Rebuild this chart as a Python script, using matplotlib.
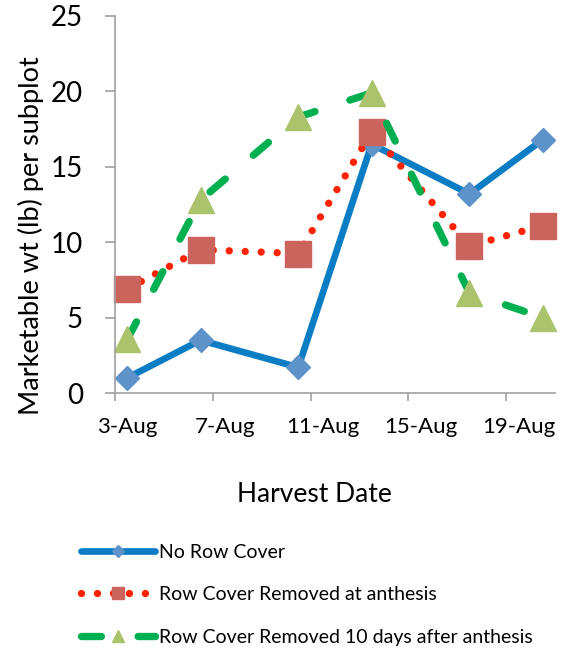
import numpy as np
import matplotlib
matplotlib.use("Agg")
import matplotlib.pyplot as plt
import matplotlib.dates as mdates

plt.rcParams['font.family'] = ['Lato', 'DejaVu Sans']

# harvest dates and marketable weight (lb) per subplot
harvest_dates = np.array(['2013-08-03', '2013-08-06', '2013-08-10',
                          '2013-08-13', '2013-08-17', '2013-08-20'], dtype='datetime64[D]')
no_cover = [1.0, 3.5, 1.7, 16.5, 13.2, 16.8]
removed_anthesis = [6.9, 9.5, 9.25, 17.3, 9.75, 11.1]
removed_10d = [3.55, 12.8, 18.3, 19.9, 6.65, 5.0]
series_names = ['No Row Cover', 'Row Cover Removed at anthesis',
                'Row Cover Removed 10 days after anthesis']
tick_dates = np.array(['2013-08-03', '2013-08-07', '2013-08-11',
                       '2013-08-15', '2013-08-19'], dtype='datetime64[D]')

fig = plt.figure(figsize=(5.68, 6.48), dpi=100)
ax = fig.add_axes([115 / 568, 1 - 393 / 648, 440 / 568, 377 / 648])

x = mdates.date2num(harvest_dates)

ax.plot(x, no_cover, color='#0A7DC5', lw=4.8, solid_capstyle='round',
        marker='D', ms=12.3, mfc='#5E93C9', mec='#5E93C9',
        label=series_names[0], clip_on=False)
ax.plot(x, removed_anthesis, color='#FF2200', lw=5.3, linestyle=(0, (0.001, 2.17)),
        dash_capstyle='round', marker='s', ms=18.5, mfc='#CC645E', mec='#CC645E',
        label=series_names[1], clip_on=False)
ax.plot(x, removed_10d, color='#00B050', lw=5.3, linestyle=(0, (2.7, 5.0)),
        dash_capstyle='round', marker='^', ms=18.5, mfc='#AAC36C', mec='#AAC36C',
        label=series_names[2], clip_on=False)

ax.set_ylim(0, 25)
ax.set_yticks(np.arange(0, 26, 5))
ax.set_xlim(x[0] - 0.5, x[-1] + 0.5)

tick_x = mdates.date2num(tick_dates)
ax.set_xticks(tick_x)
ax.xaxis.set_major_formatter(mdates.DateFormatter('%-d-%b'))
ax.set_xticks(tick_x - 0.5, minor=True)

for s in ['top', 'right']:
    ax.spines[s].set_visible(False)
for s in ['left', 'bottom']:
    ax.spines[s].set_color('#A0A0A0')
    ax.spines[s].set_linewidth(1.2)

ax.tick_params(axis='x', which='major', length=0, pad=17, labelsize=16)
ax.tick_params(axis='x', which='minor', length=6, width=1.2, color='#A0A0A0')
ax.tick_params(axis='y', length=7, width=1.2, color='#A0A0A0', pad=16, labelsize=20)

fig.text(314 / 568, 1 - 494 / 648, 'Harvest Date', ha='center', va='center', fontsize=19)
fig.text(31 / 568, 1 - 236 / 648, 'Marketable wt (lb) per subplot', rotation=90,
         ha='center', va='center', fontsize=19.5)

leg = fig.legend(loc='upper left', bbox_to_anchor=(81 / 568, 1 - 544 / 648),
                 frameon=False, fontsize=14, handlelength=3.8, handletextpad=0.2,
                 labelspacing=1.3, borderpad=0, borderaxespad=0, numpoints=1)
for h, ms in zip(leg.legend_handles, [6.5, 9, 9]):
    h.set_markersize(ms)

fig.savefig('out.png', dpi=100)
